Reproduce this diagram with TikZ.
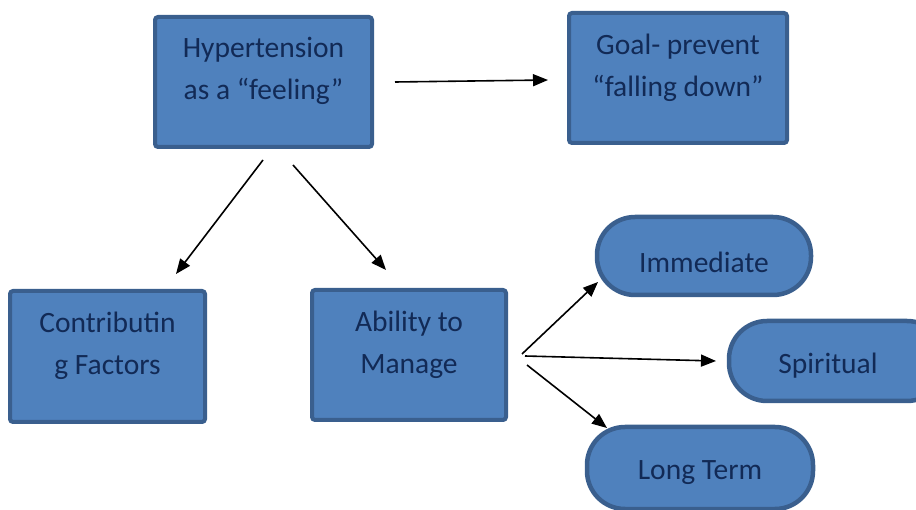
\documentclass[tikz,border=0pt]{standalone}
\usepackage{fontspec}
\setmainfont{Carlito}
\usetikzlibrary{arrows.meta}
\definecolor{boxfill}{HTML}{4F81BD}
\definecolor{boxline}{HTML}{3A5F8E}
\definecolor{boxtext}{HTML}{122A56}
\tikzset{
  box/.style={draw=boxline, fill=boxfill, line width=4pt, rounded corners=3pt, inner sep=0pt},
  pill/.style={draw=boxline, fill=boxfill, line width=4.5pt, rounded corners=38pt, inner sep=0pt},
  txt/.style={text=boxtext, font=\fontsize{29.5}{42}\selectfont, align=center, inner sep=0pt},
  conn/.style={line width=1.6pt, -{Triangle[length=15pt,width=12pt]}}
}
\begin{document}
\begin{tikzpicture}[x=1pt,y=-1pt]
\useasboundingbox (0,0) rectangle (916,510);
\clip (0,0) rectangle (916,510);
% boxes
\node[box, minimum width=217pt, minimum height=130pt] (hyp) at (263.5,82) {};
\node[txt] (hypt) at (263.5,70.5) {Hypertension\\as a “feeling”};
\node[box, minimum width=218pt, minimum height=130pt] (goal) at (678,78) {};
\node[txt] (goalt) at (678,67.5) {Goal- prevent\\“falling down”};
\node[box, minimum width=195pt, minimum height=131pt] (contr) at (107.5,356.5) {};
\node[txt] (contrt) at (107.5,345.5) {Contributin\\g Factors};
\node[box, minimum width=194pt, minimum height=130pt] (abil) at (409,355) {};
\node[txt] (abilt) at (409,344.5) {Ability to\\Manage};
\node[pill, minimum width=214pt, minimum height=78pt] (imm) at (704,256) {};
\node[txt] (immt) at (704,262) {Immediate};
\node[pill, minimum width=216pt, minimum height=80pt] (spir) at (837,361) {};
\node[txt] (spirt) at (828,366) {Spiritual};
\node[pill, minimum width=226pt, minimum height=82pt] (long) at (700,468) {};
\node[txt] (longt) at (700,473) {Long Term};
% connector end points
\coordinate (a1) at (395,82);  \coordinate (b1) at (548,80);
\coordinate (a2) at (263,160); \coordinate (b2) at (176,274);
\coordinate (a3) at (293,165); \coordinate (b3) at (386,270);
\coordinate (a4) at (522,354); \coordinate (b4) at (598,282);
\coordinate (a5) at (525,356); \coordinate (b5) at (716,361);
\coordinate (a6) at (527,365); \coordinate (b6) at (607,428);
\draw[conn] (a1) -- (b1);
\draw[conn] (a2) -- (b2);
\draw[conn] (a3) -- (b3);
\draw[conn] (a4) -- (b4);
\draw[conn] (a5) -- (b5);
\draw[conn] (a6) -- (b6);
\end{tikzpicture}
\end{document}
